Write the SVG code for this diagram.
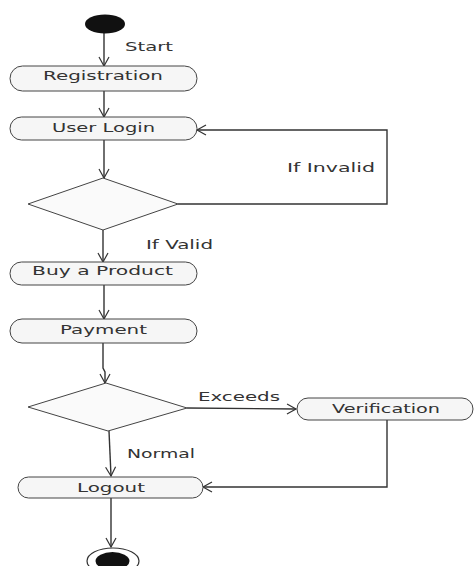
<svg xmlns="http://www.w3.org/2000/svg" width="475" height="566" viewBox="0 0 475 566">
<defs>
<marker id="arr" markerUnits="userSpaceOnUse" markerWidth="14" markerHeight="14" refX="10" refY="5" orient="auto" overflow="visible">
<path d="M1,0 L10,5 L1,10" fill="none" stroke="#333" stroke-width="1.2"/>
</marker>
<style>
.act{fill:#f6f6f6;stroke:#444;stroke-width:1}
.dec{fill:#fafafa;stroke:#444;stroke-width:1}
.ln{fill:none;stroke:#333;stroke-width:1.4}
.lbl{font-family:"DejaVu Sans","Verdana",sans-serif;font-size:13px;fill:#333}
</style>
</defs>
<rect width="475" height="566" fill="#fff"/>
<g id="connectors">
<line class="ln" x1="104" y1="33" x2="104" y2="66" marker-end="url(#arr)"/>
<line class="ln" x1="104" y1="91" x2="104" y2="117" marker-end="url(#arr)"/>
<line class="ln" x1="104" y1="140" x2="104" y2="178" marker-end="url(#arr)"/>
<polyline class="ln" points="178,204 387,204 387,130 197,130" marker-end="url(#arr)"/>
<line class="ln" x1="103" y1="230" x2="103" y2="262" marker-end="url(#arr)"/>
<line class="ln" x1="104" y1="285" x2="104" y2="319" marker-end="url(#arr)"/>
<polyline class="ln" points="103,343 103,368 105,372 105,383" marker-end="url(#arr)"/>
<line class="ln" x1="187" y1="408" x2="296" y2="409" marker-end="url(#arr)"/>
<polyline class="ln" points="387,420 387,487 203,487" marker-end="url(#arr)"/>
<line class="ln" x1="109" y1="431" x2="111" y2="476" marker-end="url(#arr)"/>
<line class="ln" x1="111" y1="498" x2="111" y2="547" marker-end="url(#arr)"/>
<text class="lbl" x="125" y="51" textLength="48" lengthAdjust="spacingAndGlyphs">Start</text>
<text class="lbl" x="287" y="172" textLength="88" lengthAdjust="spacingAndGlyphs">If Invalid</text>
<text class="lbl" x="146" y="249" textLength="67" lengthAdjust="spacingAndGlyphs">If Valid</text>
<text class="lbl" x="198" y="401" textLength="82" lengthAdjust="spacingAndGlyphs">Exceeds</text>
<text class="lbl" x="127" y="458" textLength="68" lengthAdjust="spacingAndGlyphs">Normal</text>
</g>
<g id="start">
<ellipse cx="105" cy="24" rx="20" ry="9.5" fill="#111"/>
</g>
<g id="registration">
<rect class="act" x="10" y="66" width="187" height="25" rx="12.5"/>
<text class="lbl" x="43" y="80" textLength="120" lengthAdjust="spacingAndGlyphs">Registration</text>
</g>
<g id="userlogin">
<rect class="act" x="10" y="117" width="187" height="23" rx="11.5"/>
<text class="lbl" x="52" y="132" textLength="103" lengthAdjust="spacingAndGlyphs">User Login</text>
</g>
<g id="decision1">
<polygon class="dec" points="28,204 103,178 178,204 103,230"/>
</g>
<g id="buyproduct">
<rect class="act" x="10" y="262" width="187" height="23" rx="11.5"/>
<text class="lbl" x="32" y="275" textLength="141" lengthAdjust="spacingAndGlyphs">Buy a Product</text>
</g>
<g id="payment">
<rect class="act" x="10" y="319" width="187" height="24" rx="12"/>
<text class="lbl" x="60" y="334" textLength="87" lengthAdjust="spacingAndGlyphs">Payment</text>
</g>
<g id="decision2">
<polygon class="dec" points="28,407 106,383 187,408 108,431"/>
</g>
<g id="verification">
<rect class="act" x="297" y="398" width="176" height="22" rx="11"/>
<text class="lbl" x="332" y="413" textLength="108" lengthAdjust="spacingAndGlyphs">Verification</text>
</g>
<g id="logout">
<rect class="act" x="18" y="477" width="185" height="21" rx="10.5"/>
<text class="lbl" x="77" y="492" textLength="68" lengthAdjust="spacingAndGlyphs">Logout</text>
</g>
<g id="end">
<ellipse cx="113" cy="561" rx="26" ry="13" fill="#fff" stroke="#333" stroke-width="1.2"/>
<ellipse cx="112.5" cy="561" rx="17" ry="9" fill="#111"/>
</g>
</svg>
